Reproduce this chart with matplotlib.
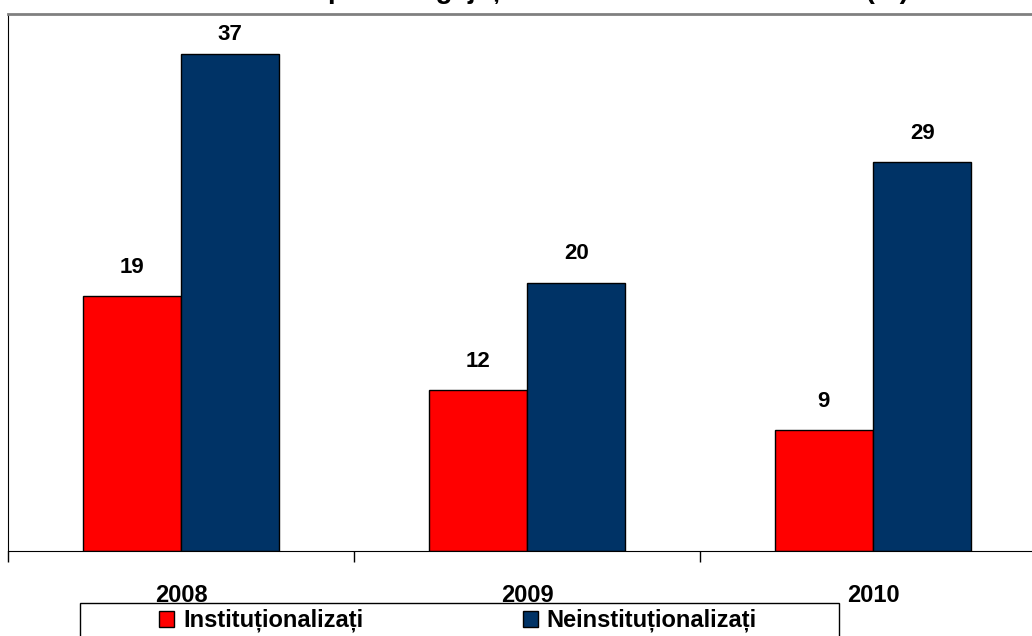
import matplotlib
matplotlib.use('Agg')
import matplotlib.pyplot as plt
from matplotlib.patches import Patch, Rectangle
import numpy as np

plt.rcParams['font.family'] = ['Liberation Sans', 'DejaVu Sans']

years = ['2008', '2009', '2010']
institutionalizati = [19, 12, 9]
neinstitutionalizati = [37, 20, 29]
series_names = ['Instituționalizați', 'Neinstituționalizați']
title = 'Ponderea copiilor angajați în muncă în ultimii trei ani (%)'

red = '#FF0000'
navy = '#003366'

W, H = 1032, 636
fig = plt.figure(figsize=(W / 100, H / 100), dpi=100)
# plot area runs past the right edge of the picture, as in the original
ax = fig.add_axes([8 / W, 1 - 551 / H, 1038 / W, 537 / H])

x = np.arange(len(years))
bw = 0.284
ytop = 40
b1 = ax.bar(x - bw / 2, institutionalizati, bw, color=red, edgecolor='black', lw=1)
b2 = ax.bar(x + bw / 2, neinstitutionalizati, bw, color=navy, edgecolor='black', lw=1)

# labels sit a bit above each bar, but are pushed down near the top of the plot
for bars, vals in [(b1, institutionalizati), (b2, neinstitutionalizati)]:
    for r, v in zip(bars, vals):
        ypos = min(v + 1.35, ytop - 2.3)
        ax.text(r.get_x() + r.get_width() / 2, ypos, str(v),
                ha='center', va='bottom', fontsize=16, fontweight='bold')

ax.set_xlim(-0.5, len(years) - 0.5)
ax.set_ylim(0, ytop)
ax.set_yticks([])
ax.set_xticks(x)
ax.set_xticklabels(years, fontsize=17, fontweight='bold')
ax.set_xticks(np.arange(len(years) + 1) - 0.5, minor=True)
ax.tick_params(axis='x', which='major', length=0, pad=24)
ax.tick_params(axis='x', which='minor', length=8, width=1, color='black')

ax.spines['top'].set_color('#808080')
ax.spines['top'].set_linewidth(2)
ax.spines['left'].set_color('black')
ax.spines['bottom'].set_color('black')
ax.spines['right'].set_visible(False)

# title sits mostly above the picture, only its lower edge shows
fig.text(535 / W, 1 + 2 / H, title, ha='center', va='baseline',
         fontsize=20, fontweight='bold')

# legend frame, running off the bottom edge
fig.patches.append(Rectangle((80 / W, -0.05), (839 - 80) / W, 0.05 + 1 - 603 / H,
                             transform=fig.transFigure, facecolor='white',
                             edgecolor='black', lw=1, zorder=3))
handles = [Patch(facecolor=red, edgecolor='black'),
           Patch(facecolor=navy, edgecolor='black')]
leg = fig.legend(handles, series_names, loc='upper left',
                 bbox_to_anchor=(159 / W, 1 - 609 / H),
                 ncol=2, fontsize=17, frameon=False, borderpad=0,
                 handlelength=0.64, handleheight=0.68, handletextpad=0.38,
                 columnspacing=6.75, borderaxespad=0)
leg.set_zorder(4)
for t in leg.get_texts():
    t.set_fontweight('bold')

fig.savefig('out.png', dpi=100)
